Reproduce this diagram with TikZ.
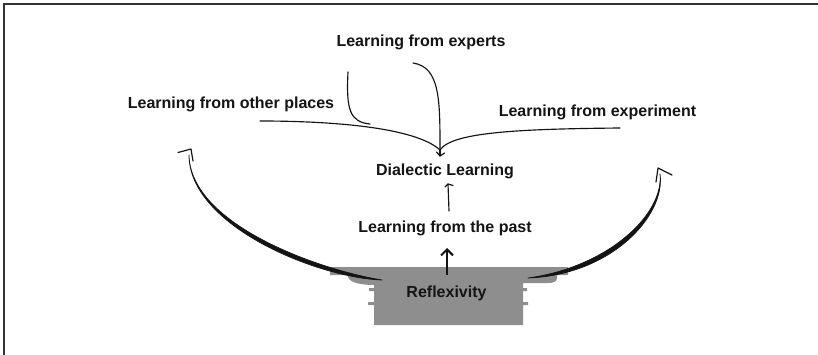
\documentclass[tikz,border=0pt]{standalone}
\usepackage{fontspec}
\setmainfont{Liberation Sans}
\usetikzlibrary{arrows.meta}
\definecolor{basegray}{RGB}{142,142,142}
\definecolor{ink}{RGB}{20,20,20}
\tikzset{
  lbl/.style={font=\bfseries\fontsize{16}{19}\selectfont, anchor=base, inner sep=0pt, text=ink},
  thinline/.style={draw=ink, line width=1.15pt, line cap=round, line join=round},
  barb/.style={draw=ink, line width=1.2pt, line cap=round, line join=round},
  bigarc/.style={fill=ink, draw=ink, line width=0.7pt, line join=round},
  frame/.style={draw=black!80, line width=1.5pt}
}
\begin{document}
\begin{tikzpicture}[x=1pt,y=-1pt]
\useasboundingbox (0,0) rectangle (818,355);
\fill[white] (0,0) rectangle (818,355);
% frame (top and left)
\draw[frame] (4,355) -- (4,4) -- (818,4);

% base block
\fill[basegray] (330,267) -- (568,267) -- (568,275) -- (557,275) -- (557,278)
  .. controls (557,282) and (553,283) .. (548,283) -- (523,283) -- (523,288)
  -- (527,288) -- (527,291) -- (523,291) -- (523,302) -- (528,302) -- (528,305)
  -- (523,305) -- (523,325) -- (374,325) -- (374,305) -- (368,305) -- (368,302)
  -- (374,302) -- (374,291) -- (369,291) -- (369,288) -- (374,288) -- (374,285)
  .. controls (362,285) and (350,283) .. (348,277) -- (348,275) -- (330,275) -- cycle;

% labels
\node[lbl] (experts) at (421,47) {Learning from experts};
\node[lbl] (places) at (231,109) {Learning from other places};
\node[lbl] (experiment) at (597.5,117) {Learning from experiment};
\node[lbl] (dialectic) at (445,175.5) {Dialectic Learning};
\node[lbl] (past) at (445,233) {Learning from the past};
\node[lbl] (reflex) at (446.5,297) {Reflexivity};

% convergence coordinates
\coordinate (J) at (440,150);
\coordinate (Jtip) at (440,156);
\coordinate (leftstart) at (260,121);
\coordinate (placesstart) at (348,72);
\coordinate (expertsstart) at (413,63);
\coordinate (rightstart) at (620,128);

\draw[thinline] (leftstart) .. controls (330,121) and (415,127) .. (J);
\draw[thinline] (placesstart) .. controls (346,110) and (350,122) .. (370,124);
\draw[thinline] (expertsstart) .. controls (440,67) and (440,100) .. (J);
\draw[thinline] (rightstart) .. controls (520,129) and (452,132) .. (J);
\draw[thinline] (J) -- (Jtip);
\draw[barb] (436.5,152) -- (Jtip) -- (444.5,153);

% past -> dialectic
\coordinate (pastTop) at (449,211);
\coordinate (dialBottom) at (448,184);
\draw[thinline] (pastTop) -- (dialBottom);
\draw[barb] (445,187) -- (dialBottom) -- (453,185.5);

% reflexivity -> past
\coordinate (refTop) at (447,275);
\coordinate (pastBottom) at (447,248);
\draw[ink, line width=2pt, -{Straight Barb[length=6pt,width=12pt]}] (refTop) -- (pastBottom);

% big left arc
\coordinate (LS) at (382,280);
\coordinate (LE) at (189,155);
\coordinate (LT) at (191,149);
\path[bigarc] (LS) .. controls (318,278) and (189,226) .. (LE)
  .. controls (190.5,225) and (320,270) .. (LS) -- cycle;
\draw[barb] (178,152.5) -- (LT) -- (193,161);

% big right arc
\coordinate (RS) at (528,278);
\coordinate (RE) at (660,174);
\coordinate (RT) at (658,168);
\path[bigarc] (RS) .. controls (612,275) and (666,215) .. (RE)
  .. controls (664,214.5) and (608,267) .. (RS) -- cycle;
\draw[barb] (656,182) -- (RT) -- (672,175);
\end{tikzpicture}
\end{document}
